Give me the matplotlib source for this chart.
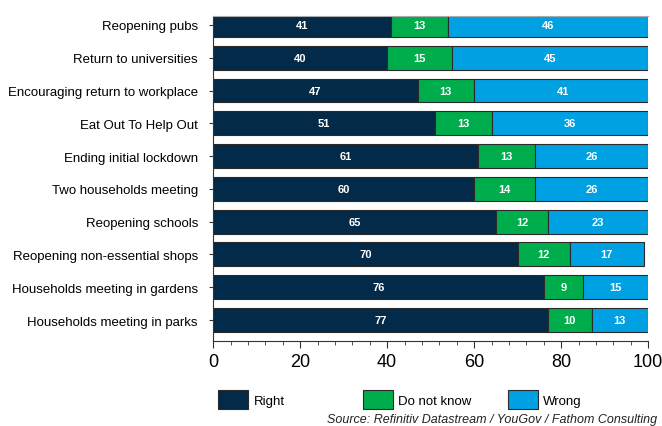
import numpy as np
import matplotlib
matplotlib.use("Agg")
import matplotlib.pyplot as plt
from matplotlib.ticker import MultipleLocator

plt.rcParams['font.family'] = ['Liberation Sans', 'DejaVu Sans']

categories = [
    "Reopening pubs",
    "Return to universities",
    "Encouraging return to workplace",
    "Eat Out To Help Out",
    "Ending initial lockdown",
    "Two households meeting",
    "Reopening schools",
    "Reopening non-essential shops",
    "Households meeting in gardens",
    "Households meeting in parks",
]
right = [41, 40, 47, 51, 61, 60, 65, 70, 76, 77]
dont_know = [13, 15, 13, 13, 13, 14, 12, 12, 9, 10]
wrong = [46, 45, 41, 36, 26, 26, 23, 17, 15, 13]

series = [("Right", right, "#032a48"),
          ("Do not know", dont_know, "#00ad4c"),
          ("Wrong", wrong, "#00a1e2")]

fig = plt.figure(figsize=(6.62, 4.27), dpi=100)
ax = fig.add_axes([0.322, 0.199, 0.657, 0.761])

y = np.arange(len(categories))
left = np.zeros(len(categories))
handles = []
for name, vals, col in series:
    vals = np.array(vals, dtype=float)
    bars = ax.barh(y, vals, left=left, height=0.73, color=col,
                   edgecolor="#2a2a2a", linewidth=0.8, label=name)
    handles.append(bars)
    for yi, l, v in zip(y, left, vals):
        ax.text(l + v / 2, yi, f"{v:.0f}", ha="center", va="center",
                color="white", fontsize=8, fontweight="bold")
    left += vals

ax.set_ylim(len(categories) - 0.36, -0.27)
ax.set_xlim(0, 100)
ax.set_yticks(y)
ax.set_yticklabels(categories, fontsize=9.5)
ax.xaxis.set_major_locator(MultipleLocator(20))
ax.xaxis.set_minor_locator(MultipleLocator(4))
ax.tick_params(axis="x", labelsize=13, length=5, width=0.8, color="#333333")
ax.tick_params(axis="x", which="minor", length=3, width=0.6, color="#333333")
ax.tick_params(axis="y", length=3, width=0.8, color="#333333", pad=8)

ax.spines["right"].set_visible(False)
ax.spines["top"].set_color("#aaaaaa")
ax.spines["left"].set_color("#333333")
ax.spines["bottom"].set_color("#333333")

# one legend per series so the entries sit at fixed spacing
for i, (h, (name, _, _)) in enumerate(zip(handles, series)):
    fig.legend(handles=[h], labels=[name], loc="upper left",
               bbox_to_anchor=(0.329 + i * 0.219, 0.085),
               frameon=False, fontsize=9.5, handlelength=2.3,
               handleheight=1.9, handletextpad=0.4,
               borderaxespad=0, borderpad=0)

fig.text(0.992, 0.003, "Source: Refinitiv Datastream / YouGov / Fathom Consulting",
         ha="right", va="bottom", fontsize=9, style="italic", color="#222222")

fig.savefig("out.png", dpi=100)
